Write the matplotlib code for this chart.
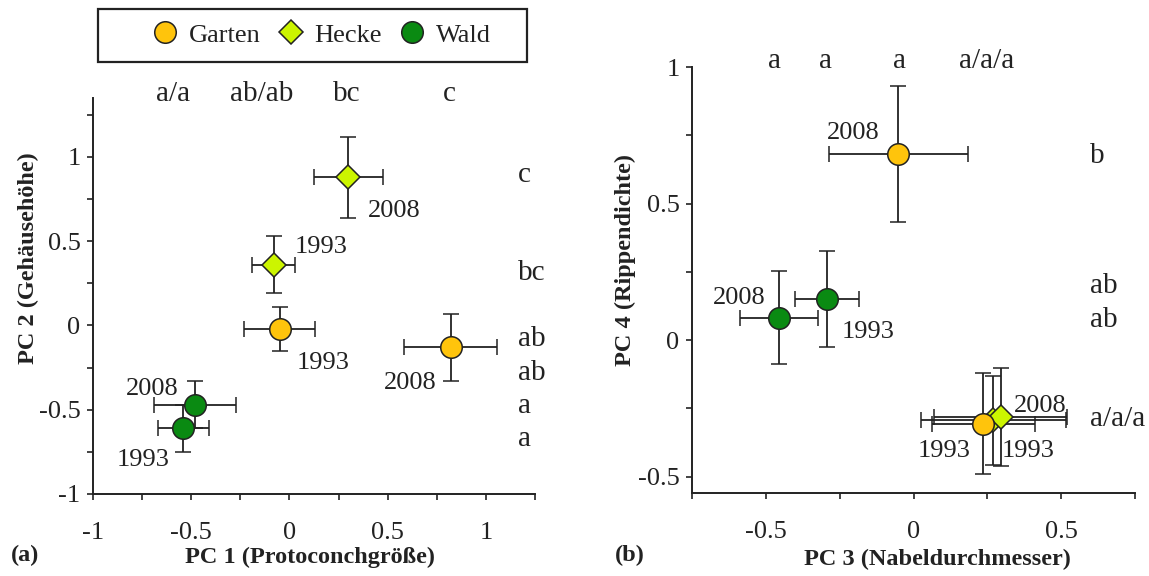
import matplotlib
matplotlib.use("Agg")
import matplotlib.pyplot as plt
from matplotlib.ticker import FuncFormatter, MultipleLocator
from matplotlib.lines import Line2D
from matplotlib.patches import Rectangle

plt.rcParams['font.family'] = 'serif'
plt.rcParams['font.serif'] = ['Liberation Serif', 'DejaVu Serif']

# groups and colours
groups = ["Garten", "Hecke", "Wald"]
colors = {"Garten": "#FFC40C", "Hecke": "#CCF500", "Wald": "#0A8A12"}
markers = {"Garten": "o", "Hecke": "D", "Wald": "o"}

# panel (a): PC1 vs PC2
a_group = ["Hecke", "Hecke", "Garten", "Garten", "Wald", "Wald"]
a_year = ["1993", "2008", "1993", "2008", "1993", "2008"]
a_x = [-0.08, 0.30, -0.05, 0.82, -0.54, -0.48]
a_y = [0.36, 0.88, -0.02, -0.13, -0.61, -0.47]
a_xerr = [0.11, 0.175, 0.18, 0.235, 0.13, 0.21]
a_yerr = [0.17, 0.24, 0.13, 0.20, 0.14, 0.14]
a_top_letters = ["a/a", "ab/ab", "bc", "c"]
a_right_letters = ["c", "bc", "ab", "ab", "a", "a"]

# panel (b): PC3 vs PC4
b_group = ["Hecke", "Hecke", "Garten", "Garten", "Wald", "Wald"]
b_year = ["1993", "2008", "1993", "2008", "1993", "2008"]
b_x = [0.27, 0.295, 0.236, -0.052, -0.293, -0.456]
b_y = [-0.293, -0.281, -0.306, 0.681, 0.151, 0.082]
b_xerr = [0.245, 0.225, 0.175, 0.235, 0.107, 0.133]
b_yerr = [0.163, 0.18, 0.184, 0.25, 0.177, 0.17]
b_top_letters = ["a", "a", "a", "a/a/a"]
b_right_letters = ["b", "ab", "ab", "a/a/a"]

# label placement (pixels offset from the point)
a_year_off = [(47, 18), (46, -34), (43, -34), (-40, -36), (-40, -32), (-43, 16)]
b_year_off = [(35, -31), (40, 11), (-39, -27), (-45, 21), (41, -33), (-40, 20)]
a_top_pos = [-0.59, -0.14, 0.29, 0.816]
a_right_pos = [0.893, 0.31, -0.08, -0.28, -0.476, -0.673]
b_top_pos = [-0.47, -0.297, -0.049, 0.246]
b_right_pos = [0.674, 0.198, 0.073, -0.289]

W, H = 1149, 576
fig = plt.figure(figsize=(W / 100, H / 100), dpi=100)

ax1 = fig.add_axes([93 / W, 1 - 494 / H, 442 / W, 396 / H])
ax2 = fig.add_axes([692 / W, 1 - 493 / H, 443 / W, 426 / H])

fmt = FuncFormatter(lambda v, p: ('%g' % round(v, 2)) if abs(v * 2 - round(v * 2)) < 1e-6 else '')
ink = '#222222'


def draw(ax, grp, yrs, xs, ys, xe, ye, offs):
    for g, yr, x, y, dx, dy, off in zip(grp, yrs, xs, ys, xe, ye, offs):
        ax.errorbar(x, y, xerr=dx, yerr=dy, fmt=markers[g], color=ink,
                    ecolor=ink, elinewidth=1.3, capsize=5.5, capthick=1.3,
                    markersize=15.5 if markers[g] == 'o' else 12.5,
                    markerfacecolor=colors[g], markeredgecolor=ink,
                    markeredgewidth=1.1, clip_on=False)
        ax.annotate(yr, (x, y), xytext=off, textcoords='offset pixels',
                    ha='center', va='center', fontsize=19, color=ink)


def style(ax):
    for s in ['top', 'right']:
        ax.spines[s].set_visible(False)
    for s in ['left', 'bottom']:
        ax.spines[s].set_linewidth(1.4)
        ax.spines[s].set_color(ink)
    ax.xaxis.set_major_locator(MultipleLocator(0.25))
    ax.yaxis.set_major_locator(MultipleLocator(0.25))
    ax.xaxis.set_major_formatter(fmt)
    ax.yaxis.set_major_formatter(fmt)
    ax.tick_params(direction='out', length=4, width=1.2, labelsize=19,
                   colors=ink)
    ax.tick_params(axis='x', pad=16)
    ax.tick_params(axis='y', pad=5)
    ax.xaxis.label.set_va('center')
    ax.yaxis.label.set_va('center')


draw(ax1, a_group, a_year, a_x, a_y, a_xerr, a_yerr, a_year_off)
style(ax1)
ax1.set_xlim(-1, 1.25)
ax1.set_ylim(-1, 1.35)
ax1.set_xticks([-1, -0.75, -0.5, -0.25, 0, 0.25, 0.5, 0.75, 1, 1.25])
ax1.set_yticks([-1, -0.75, -0.5, -0.25, 0, 0.25, 0.5, 0.75, 1, 1.25])
for t, x in zip(a_top_letters, a_top_pos):
    ax1.text(x, 1.375, t, ha='center', va='center', fontsize=21, color=ink, clip_on=False)
for t, y in zip(a_right_letters, a_right_pos):
    ax1.text(1.165, y, t, ha='left', va='center', fontsize=21, color=ink, clip_on=False)
ax1.set_xlabel("PC 1 (Protoconchgröße)", fontsize=17.5, fontweight='bold', color=ink)
ax1.set_ylabel("PC 2 (Gehäusehöhe)", fontsize=17.5, fontweight='bold', color=ink)
ax1.xaxis.set_label_coords(0.492, -0.16)
ax1.yaxis.set_label_coords(-0.145, 0.595)

draw(ax2, b_group, b_year, b_x, b_y, b_xerr, b_yerr, b_year_off)
style(ax2)
ax2.set_xlim(-0.75, 0.75)
ax2.set_ylim(-0.56, 1.0)
ax2.set_xticks([-0.75, -0.5, -0.25, 0, 0.25, 0.5, 0.75])
ax2.set_yticks([-0.5, -0.25, 0, 0.25, 0.5, 0.75, 1])
for t, x in zip(b_top_letters, b_top_pos):
    ax2.text(x, 1.022, t, ha='center', va='center', fontsize=21, color=ink, clip_on=False)
for t, y in zip(b_right_letters, b_right_pos):
    ax2.text(0.598, y, t, ha='left', va='center', fontsize=21, color=ink, clip_on=False)
ax2.set_xlabel("PC 3 (Nabeldurchmesser)", fontsize=17.5, fontweight='bold', color=ink)
ax2.set_ylabel("PC 4 (Rippendichte)", fontsize=17.5, fontweight='bold', color=ink)
ax2.xaxis.set_label_coords(0.555, -0.157)
ax2.yaxis.set_label_coords(-0.151, 0.547)

fig.text(25 / W, 1 - 555 / H, "(a)", fontsize=17.5, fontweight='bold', color=ink,
         ha='center', va='center')
fig.text(630 / W, 1 - 555 / H, "(b)", fontsize=17.5, fontweight='bold', color=ink,
         ha='center', va='center')

# legend
handles = [Line2D([], [], linestyle='none', marker=markers[g],
                  markersize=15.5 if markers[g] == 'o' else 12.5,
                  markerfacecolor=colors[g], markeredgecolor=ink,
                  markeredgewidth=1.1) for g in groups]
leg = fig.legend(handles, groups, loc='center', bbox_to_anchor=(320 / W, 1 - 35 / H),
                 ncol=3, frameon=False, fontsize=19, handletextpad=0.3,
                 columnspacing=0.55, handlelength=1.2)
for t in leg.get_texts():
    t.set_color(ink)
fig.patches.append(Rectangle((98 / W, 1 - 62 / H), 429 / W, 53 / H,
                             transform=fig.transFigure, fill=False,
                             edgecolor=ink, linewidth=1.6))

fig.savefig("out.png", dpi=100)
